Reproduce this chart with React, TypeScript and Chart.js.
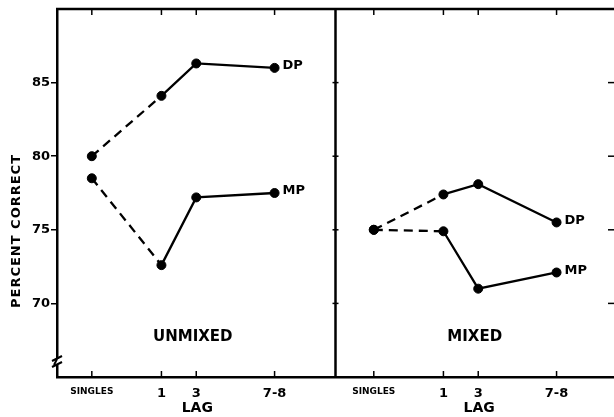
import React, { useEffect, useRef } from 'react';
import { Chart, registerables } from 'chart.js';

Chart.register(...registerables);

// ---- data ----
const LAG_LABELS = ['SINGLES', '1', '3', '7-8'];
const LAG_VALUES = [-3, 1, 3, 7.5];
const PANEL_NAMES = ['UNMIXED', 'MIXED'];
const UNMIXED_DP = [80.0, 84.1, 86.3, 86.0];
const UNMIXED_MP = [78.5, 72.6, 77.2, 77.5];
const MIXED_DP = [75.0, 77.4, 78.1, 75.5];
const MIXED_MP = [75.0, 74.9, 71.0, 72.1];
const SERIES_NAMES = ['DP', 'MP'];
const Y_TICKS = [70, 75, 80, 85];
const Y_MIN = 65;
const Y_MAX = 90;
const DASHED_SEGMENT_START = 0; // singles -> lag 1 is dashed

// ---- layout ----
const X_MIN = -5;
const PANEL_SPAN = 16;
const PANEL_OFFSETS = [0, 16.2];
const X_MAX = X_MIN + 2 * PANEL_SPAN;
const DIVIDER = X_MIN + PANEL_SPAN;
const FONT = '"DejaVu Sans", sans-serif';

const panelSeries = [
  [UNMIXED_DP, UNMIXED_MP],
  [MIXED_DP, MIXED_MP],
];

const X_TICK_VALUES: number[] = [];
const X_TICK_LABELS: string[] = [];
PANEL_OFFSETS.forEach((off) => {
  LAG_VALUES.forEach((l, i) => {
    X_TICK_VALUES.push(l + off);
    X_TICK_LABELS.push(LAG_LABELS[i]);
  });
});

function buildDatasets() {
  const ds: any[] = [];
  panelSeries.forEach((series, p) => {
    series.forEach((vals, s) => {
      ds.push({
        label: PANEL_NAMES[p] + ' ' + SERIES_NAMES[s],
        seriesName: SERIES_NAMES[s],
        data: vals.map((v, i) => ({ x: LAG_VALUES[i] + PANEL_OFFSETS[p], y: v })),
        borderColor: '#000',
        backgroundColor: '#000',
        borderWidth: 2.3,
        pointRadius: 4.5,
        pointBorderWidth: 1,
        pointBackgroundColor: '#000',
        pointBorderColor: '#000',
        showLine: true,
        segment: {
          borderDash: (c: any) => (c.p0DataIndex === DASHED_SEGMENT_START ? [9, 6] : undefined),
        },
      });
    });
  });
  return ds;
}

const decor = {
  id: 'decor',
  afterDraw(chart: any) {
    const { ctx, chartArea: a, scales } = chart;
    const x = scales.x;
    const y = scales.y;
    const line = (x1: number, y1: number, x2: number, y2: number) => {
      ctx.beginPath();
      ctx.moveTo(x1, y1);
      ctx.lineTo(x2, y2);
      ctx.stroke();
    };
    ctx.save();
    ctx.strokeStyle = '#000';
    ctx.fillStyle = '#000';
    ctx.setLineDash([]);
    // top border
    ctx.lineWidth = 2.5;
    line(a.left - 1, a.top, a.right, a.top);
    // divider
    const dx = x.getPixelForValue(DIVIDER);
    line(dx, a.top, dx, a.bottom);
    // inward ticks
    ctx.lineWidth = 1.5;
    X_TICK_VALUES.forEach((v) => {
      const px = x.getPixelForValue(v);
      line(px, a.top, px, a.top + 6);
      line(px, a.bottom, px, a.bottom - 6);
    });
    Y_TICKS.forEach((v) => {
      const py = y.getPixelForValue(v);
      line(dx - 3, py, dx + 3, py);
      line(a.right - 6, py, a.right, py);
    });
    // axis break marker
    const bx = a.left;
    const by = a.bottom - 15;
    ctx.fillStyle = '#fff';
    ctx.fillRect(bx - 3, by - 3, 6, 6);
    ctx.fillStyle = '#000';
    ctx.lineWidth = 2;
    line(bx - 5, by - 1, bx + 5, by - 6);
    line(bx - 5, by + 5, bx + 5, by);
    line(bx, by - 3, bx - 3, by + 3);

    // y title
    ctx.save();
    ctx.translate(17, (a.top + a.bottom) / 2 + 38);
    ctx.rotate(-Math.PI / 2);
    ctx.font = 'bold 13px ' + FONT;
    (ctx as any).letterSpacing = '1px';
    ctx.textAlign = 'center';
    ctx.textBaseline = 'middle';
    ctx.fillText('PERCENT CORRECT', 0, 0);
    ctx.restore();

    // LAG titles & panel names
    PANEL_OFFSETS.forEach((off, p) => {
      ctx.font = 'bold 14px ' + FONT;
      ctx.textAlign = 'center';
      ctx.textBaseline = 'middle';
      ctx.fillText('LAG', x.getPixelForValue(LAG_VALUES[2] + off) + 1, 408);
      ctx.font = 'bold 15px ' + FONT;
      ctx.fillText(PANEL_NAMES[p], x.getPixelForValue(2.8 + off), y.getPixelForValue(67.7));
    });

    // series labels
    ctx.font = 'bold 13px ' + FONT;
    ctx.textAlign = 'left';
    ctx.textBaseline = 'middle';
    chart.data.datasets.forEach((ds: any, i: number) => {
      const meta = chart.getDatasetMeta(i);
      const last = meta.data[meta.data.length - 1];
      ctx.fillText(ds.seriesName, last.x + 8, last.y - 2);
    });
    ctx.restore();
  },
};

export default function App() {
  const ref = useRef<HTMLCanvasElement>(null);
  useEffect(() => {
    if (!ref.current) return;
    const chart = new Chart(ref.current, {
      type: 'scatter',
      data: { datasets: buildDatasets() },
      options: {
        responsive: false,
        animation: false,
        layout: { autoPadding: false, padding: { top: 9, right: 0, left: 0, bottom: 0 } },
        plugins: { legend: { display: false }, tooltip: { enabled: false } },
        scales: {
          x: {
            type: 'linear',
            min: X_MIN,
            max: X_MAX,
            afterBuildTicks: (s: any) => {
              s.ticks = X_TICK_VALUES.map((v) => ({ value: v }));
            },
            afterFit: (s: any) => {
              s.height = 40;
            },
            ticks: {
              autoSkip: false,
              maxRotation: 0,
              padding: 9,
              color: '#000',
              callback: (_v: any, i: number) => X_TICK_LABELS[i],
              font: (c: any) =>
                c.index % LAG_LABELS.length === 0
                  ? { family: FONT, size: 9, weight: 'bold' }
                  : { family: FONT, size: 13, weight: 'bold' },
            },
            grid: { display: false, drawTicks: false },
            border: { display: true, color: '#000', width: 2.5 },
          },
          y: {
            type: 'linear',
            min: Y_MIN,
            max: Y_MAX,
            afterBuildTicks: (s: any) => {
              s.ticks = Y_TICKS.map((v) => ({ value: v }));
            },
            afterFit: (s: any) => {
              s.width = 57;
            },
            ticks: {
              padding: 1,
              color: '#000',
              font: { family: FONT, size: 13, weight: 'bold' },
            },
            grid: {
              display: true,
              drawOnChartArea: false,
              drawTicks: true,
              tickLength: 6,
              color: '#000',
              lineWidth: 1.5,
            },
            border: { display: true, color: '#000', width: 2.5 },
          },
        },
      } as any,
      plugins: [decor],
    });
    return () => chart.destroy();
  }, []);
  return (
    <div style={{ position: 'absolute', left: 0, top: 0, width: 614, height: 417, background: '#fff' }}>
      <canvas ref={ref} width={614} height={417} style={{ display: 'block' }} />
    </div>
  );
}
